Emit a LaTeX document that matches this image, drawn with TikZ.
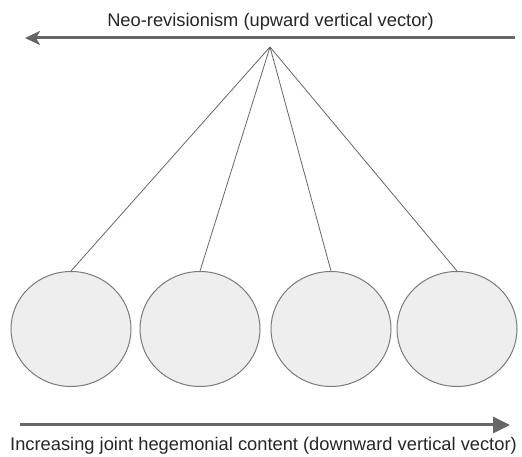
\documentclass[tikz,border=0pt]{standalone}
\usepackage{fontspec}
\setmainfont{Liberation Sans}
\usetikzlibrary{shapes.geometric,arrows.meta}
\definecolor{gristrait}{HTML}{666666}
\definecolor{grisfond}{HTML}{EEEEEE}
\definecolor{grisbord}{HTML}{7A7A7A}
\begin{document}
\begin{tikzpicture}[x=1pt, y=1pt]
			\tikzset{boule/.style={ellipse, draw=grisbord, fill=grisfond, line width=1pt, minimum width=120pt, minimum height=115pt, inner sep=0pt},
			fil/.style={draw=gristrait, line width=0.8pt},
			fleche/.style={draw=gristrait, line width=3pt},
			texte/.style={anchor=base, inner sep=0pt, text=black!85, font=\fontsize{18.3}{22}\selectfont}};

			\useasboundingbox (0,0) rectangle (522,457);

			\node[boule] (b1) at ( 71, 128) {};
			\node[boule] (b2) at (200, 128) {};
			\node[boule] (b3) at (331, 128) {};
			\node[boule] (b4) at (457, 128) {};

			\coordinate (p)  at (270, 410);
			\coordinate (h1) at (515, 419);
			\coordinate (h2) at ( 25, 419);
			\coordinate (v1) at ( 20,  32);
			\coordinate (v2) at (510,  32);

			\node[texte] (t1) at (270.5, 430) {Neo-revisionism (upward vertical vector)};
			\node[texte] (t2) at (263.5,   6) {Increasing joint hegemonial content (downward vertical vector)};

			\draw[fleche, -{Stealth[length=15pt, width=14pt, inset=4pt]}] (h1) -- (h2);
			\draw[fleche, -{Triangle[length=17pt, width=16pt]}] (v1) -- (v2);

			\draw[fil] (p) -- (b1.north);
			\draw[fil] (p) -- (b2.north);
			\draw[fil] (p) -- (b3.north);
			\draw[fil] (p) -- (b4.north);

		\end{tikzpicture}
\end{document}
